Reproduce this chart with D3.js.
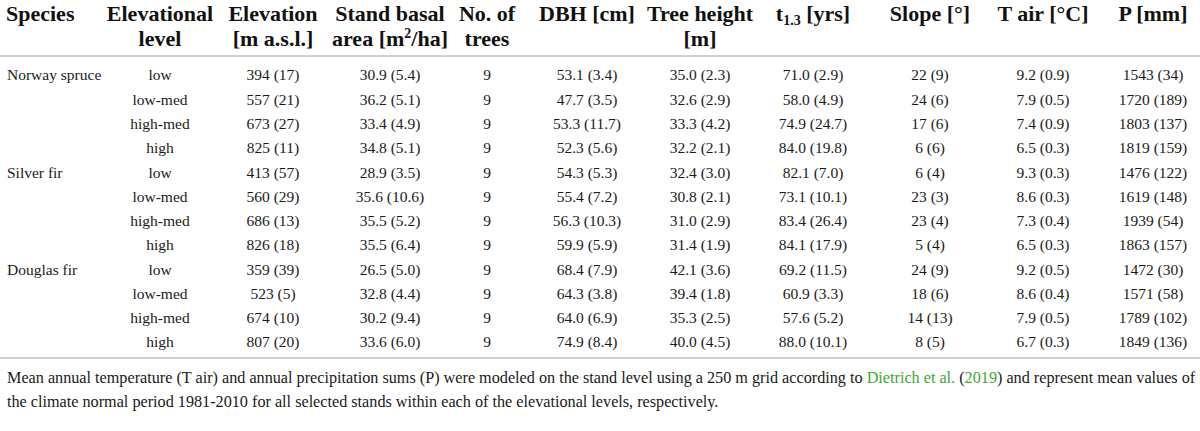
<!DOCTYPE html>
<html>
<head>
<meta charset="utf-8">
<script src="https://cdn.jsdelivr.net/npm/d3@7"></script>
<style>
  body { margin: 0; background: #fff; }
</style>
</head>
<body>
<div id="table"></div>
<script>
// Table data: species, levels and mean / sd per column
const species = ["Norway spruce", "Silver fir", "Douglas fir"];
const levels = ["low", "low-med", "high-med", "high"];

const elevMean = [394, 557, 673, 825, 413, 560, 686, 826, 359, 523, 674, 807];
const elevSd = [17, 21, 27, 11, 57, 29, 13, 18, 39, 5, 10, 20];
const basalMean = [30.9, 36.2, 33.4, 34.8, 28.9, 35.6, 35.5, 35.5, 26.5, 32.8, 30.2, 33.6];
const basalSd = [5.4, 5.1, 4.9, 5.1, 3.5, 10.6, 5.2, 6.4, 5.0, 4.4, 9.4, 6.0];
const nTrees = [9, 9, 9, 9, 9, 9, 9, 9, 9, 9, 9, 9];
const dbhMean = [53.1, 47.7, 53.3, 52.3, 54.3, 55.4, 56.3, 59.9, 68.4, 64.3, 64.0, 74.9];
const dbhSd = [3.4, 3.5, 11.7, 5.6, 5.3, 7.2, 10.3, 5.9, 7.9, 3.8, 6.9, 8.4];
const heightMean = [35.0, 32.6, 33.3, 32.2, 32.4, 30.8, 31.0, 31.4, 42.1, 39.4, 35.3, 40.0];
const heightSd = [2.3, 2.9, 4.2, 2.1, 3.0, 2.1, 2.9, 1.9, 3.6, 1.8, 2.5, 4.5];
const t13Mean = [71.0, 58.0, 74.9, 84.0, 82.1, 73.1, 83.4, 84.1, 69.2, 60.9, 57.6, 88.0];
const t13Sd = [2.9, 4.9, 24.7, 19.8, 7.0, 10.1, 26.4, 17.9, 11.5, 3.3, 5.2, 10.1];
const slopeMean = [22, 24, 17, 6, 6, 23, 23, 5, 24, 18, 14, 8];
const slopeSd = [9, 6, 6, 6, 4, 3, 4, 4, 9, 6, 13, 5];
const tairMean = [9.2, 7.9, 7.4, 6.5, 9.3, 8.6, 7.3, 6.5, 9.2, 8.6, 7.9, 6.7];
const tairSd = [0.9, 0.5, 0.9, 0.3, 0.3, 0.3, 0.4, 0.3, 0.5, 0.4, 0.5, 0.3];
const precMean = [1543, 1720, 1803, 1819, 1476, 1619, 1939, 1863, 1472, 1571, 1789, 1849];
const precSd = [34, 189, 137, 159, 122, 148, 54, 157, 30, 58, 102, 136];

const footnote = [
    ["Mean annual temperature (T air) and annual precipitation sums (P) were modeled on the stand level using a 250 m grid according to ",
     {link: "Dietrich et al."}, " (", {link: "2019"},
     ") and represent mean values of"],
    ["the climate normal period 1981-2010 for all selected stands within each of the elevational levels, respectively."]
];

function init() {
    const width = 1200;
    const height = 431;
    const serif = '"Liberation Serif"';

    const f0 = d3.format(".0f");
    const f1 = d3.format(".1f");

    // columns: header lines + cell text per row
    const columns = [
        {key: "level", head: ["Elevational", "level"], cell: i => levels[i % 4]},
        {key: "elev", head: ["Elevation", "[m a.s.l.]"], cell: i => `${f0(elevMean[i])} (${f0(elevSd[i])})`},
        {key: "basal", head: ["Stand basal", "area [m|2|/ha]"], cell: i => `${f1(basalMean[i])} (${f1(basalSd[i])})`},
        {key: "trees", head: ["No. of", "trees"], cell: i => f0(nTrees[i])},
        {key: "dbh", head: ["DBH [cm]"], cell: i => `${f1(dbhMean[i])} (${f1(dbhSd[i])})`},
        {key: "height", head: ["Tree height", "[m]"], cell: i => `${f1(heightMean[i])} (${f1(heightSd[i])})`},
        {key: "t13", head: ["t_1.3_ [yrs]"], cell: i => `${f1(t13Mean[i])} (${f1(t13Sd[i])})`},
        {key: "slope", head: ["Slope [°]"], cell: i => `${f0(slopeMean[i])} (${f0(slopeSd[i])})`},
        {key: "tair", head: ["T air [°C]"], cell: i => `${f1(tairMean[i])} (${f1(tairSd[i])})`},
        {key: "prec", head: ["P [mm]"], cell: i => `${f0(precMean[i])} (${f0(precSd[i])})`}
    ];

    // centre of each column
    const x = d3.scaleOrdinal()
                .domain(columns.map(c => c.key))
                .range([160, 273, 390, 487, 587, 700, 813, 930, 1043, 1153]);

    const rows = d3.range(elevMean.length);
    const y = d3.scalePoint()
                .domain(rows)
                .range([75, 342]);

    const svg = d3.select("#table").append("svg")
                  .attr("width", width)
                  .attr("height", height)
                  .style("display", "block")
                  .style("font-family", serif);

    const headFont = 22;
    const cellFont = 15.5;
    const footFont = 16.2;

    // header
    const head = svg.append("g")
                    .style("font-family", serif)
                    .style("font-weight", "bold")
                    .style("font-size", headFont + "px")
                    .attr("fill", "#111");

    head.append("text")
        .attr("x", 6)
        .attr("y", 21)
        .text("Species");

    columns.forEach(c => {
        c.head.forEach((line, j) => {
            const t = head.append("text")
                          .attr("x", x(c.key))
                          .attr("y", 21 + j * 25)
                          .attr("text-anchor", "middle");
            // "|" marks superscript, "_" marks subscript
            if (line.includes("|")) {
                const parts = line.split("|");
                t.append("tspan").text(parts[0]);
                t.append("tspan").attr("dy", -8).style("font-size", "14px").text(parts[1]);
                t.append("tspan").attr("dy", 8).text(parts[2]);
            } else if (line.includes("_")) {
                const parts = line.split("_");
                t.append("tspan").text(parts[0]);
                t.append("tspan").attr("dy", 4).style("font-size", "14px").text(parts[1]);
                t.append("tspan").attr("dy", -4).text(parts[2]);
            } else {
                t.text(line);
            }
        });
    });

    // rules
    const rules = [56, 358];
    svg.selectAll("line.rule")
       .data(rules)
       .enter()
       .append("line")
       .attr("class", "rule")
       .attr("x1", 0)
       .attr("x2", width)
       .attr("y1", d => d)
       .attr("y2", d => d)
       .attr("stroke", "#d0d0d0")
       .attr("stroke-width", 2);

    // body
    const body = svg.append("g")
                    .style("font-family", serif)
                    .style("font-size", cellFont + "px")
                    .attr("fill", "#1a1a1a");

    body.selectAll("text.species")
        .data(species)
        .enter()
        .append("text")
        .attr("class", "species")
        .attr("x", 7)
        .attr("y", (d, i) => y(i * 4))
        .attr("dy", "0.35em")
        .text(d => d);

    columns.forEach(c => {
        body.selectAll("text.c-" + c.key)
            .data(rows)
            .enter()
            .append("text")
            .attr("class", "c-" + c.key)
            .attr("x", x(c.key))
            .attr("y", d => y(d))
            .attr("dy", "0.35em")
            .attr("text-anchor", "middle")
            .text(d => c.cell(d));
    });

    // footnote
    const foot = svg.append("g")
                    .style("font-family", serif)
                    .style("font-size", footFont + "px")
                    .attr("fill", "#1a1a1a");

    footnote.forEach((line, j) => {
        const t = foot.append("text")
                      .attr("x", 7)
                      .attr("y", 377 + j * 24)
                      .attr("dy", "0.35em");
        line.forEach(part => {
            if (typeof part === "string") {
                t.append("tspan").text(part);
            } else {
                t.append("tspan").attr("fill", "#3aaa35").text(part.link);
            }
        });
    });
}

window.onload = init;
</script>
</body>
</html>
